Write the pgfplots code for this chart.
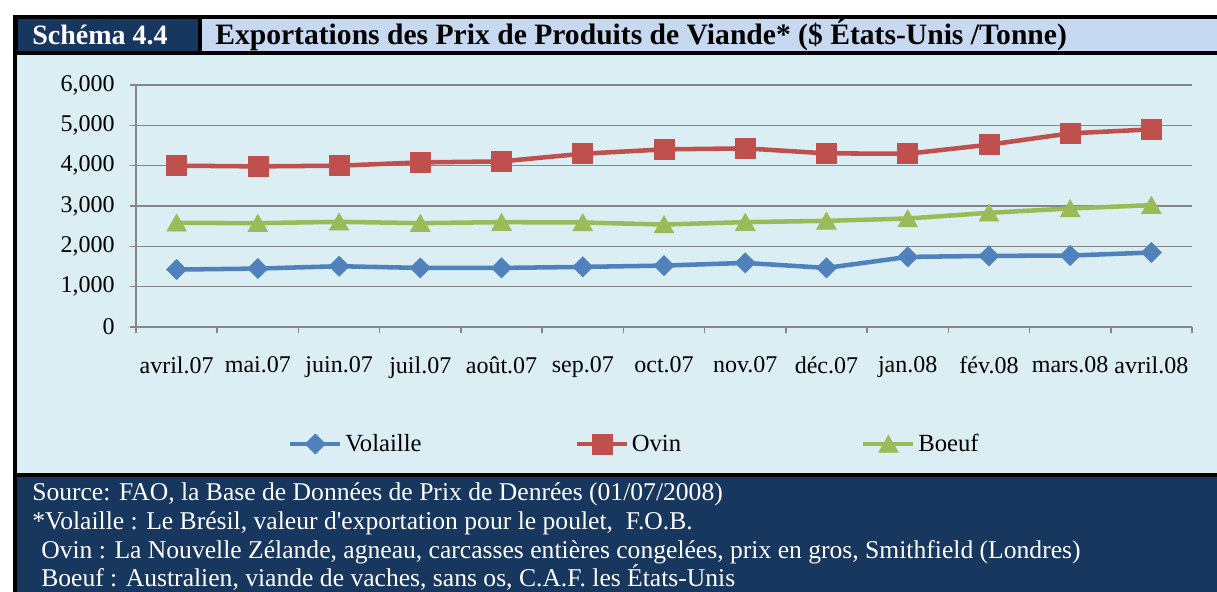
\documentclass[border=0pt]{standalone}
\usepackage{pgfplots}
\pgfplotsset{compat=1.18}
\usepackage{fontspec}
\setmainfont{Liberation Serif}
\newfontfamily\nomap{Liberation Serif}

\definecolor{navy}{HTML}{17375E}
\definecolor{headblue}{HTML}{C6D9F1}
\definecolor{chartbg}{HTML}{DBEEF4}
\definecolor{gridgray}{HTML}{868686}
\definecolor{cblue}{HTML}{4F81BD}
\definecolor{cred}{HTML}{C0504D}
\definecolor{cgreen}{HTML}{9BBB59}

\begin{document}
\begin{tikzpicture}
% 1 px of the reference = 0.75pt, y downwards
\path[use as bounding box] (0pt,0pt) rectangle (912.75pt,-444pt);
\begin{scope}[x=0.75pt,y=-0.75pt]
  \fill[white] (0,0) rectangle (1217,592);
  \fill[black] (13,15) rectangle (1217,592);
  \fill[navy] (18,19) rectangle (198,51);
  \fill[headblue] (202,19) rectangle (1217,51);
  \fill[chartbg] (17,55) rectangle (1217,473);
  \fill[navy] (17,477) rectangle (1217,592);
  \node[anchor=base west, text=white, inner sep=0pt, font=\fontsize{21}{23}\selectfont\bfseries] at (32,45) {Schéma 4.4};
  \node[anchor=base west, inner sep=0pt, font=\fontsize{22.2}{24}\selectfont\bfseries] at (215,45) {Exportations des Prix de Produits de Viande* (\$ États-Unis /Tonne)};
  \begin{scope}[every node/.style={anchor=base west, text=white, inner sep=0pt, font=\fontsize{19.2}{21}\selectfont}]
    \node at (32,500) {Source: FAO, la Base de Données de Prix de Denrées (01/07/2008)};
    \node at (32,529) {*Volaille : Le Brésil, valeur d{\nomap '}exportation pour le poulet,\ \ F.O.B.};
    \node at (41,558) {Ovin : La Nouvelle Zélande, agneau, carcasses entières congelées, prix en gros, Smithfield (Londres)};
    \node at (41,586) {Boeuf : Australien, viande de vaches, sans os, C.A.F. les États-Unis};
  \end{scope}
\end{scope}

\begin{axis}[
    at={(102pt,-245.25pt)}, anchor=south west,
    width=792pt, height=181.5pt, scale only axis,
    xmin=-0.5, xmax=12.5, ymin=0, ymax=6000,
    axis x line*=bottom, axis y line*=left,
    axis line style={gridgray, line width=1.1pt},
    xtick={0,...,12},
    xticklabels={avril.07,mai.07,juin.07,juil.07,août.07,sep.07,oct.07,nov.07,déc.07,jan.08,fév.08,mars.08,avril.08},
    minor xtick={-0.5,0.5,...,12.5},
    ytick={0,1000,...,6000},
    yticklabels={0,{1,000},{2,000},{3,000},{4,000},{5,000},{6,000}},
    tick align=outside,
    major tick length=4.5pt, minor tick length=4.5pt,
    major x tick style={draw=none},
    minor x tick style={gridgray, line width=1.1pt},
    ytick style={gridgray, line width=1.1pt},
    ymajorgrids,
    grid style={gridgray, line width=1.1pt},
    tick label style={font=\fontsize{18}{20}\selectfont, /pgf/number format/assume math mode=true},
    xticklabel style={yshift=-14pt},
    yticklabel style={xshift=-8pt},
    every axis plot/.append style={line width=3.4pt},
    legend style={at={(0.140,-0.4835)}, anchor=west, draw=none, fill=none,
        legend columns=3, font=\fontsize{18.5}{20}\selectfont,
        nodes={text width=170pt, align=left, inner xsep=2pt}},
    legend cell align=left,
    legend image code/.code={\draw[mark repeat=2,mark phase=2] plot coordinates {(0pt,0pt)(18.75pt,0pt)(37.5pt,0pt)};},
]
\addplot[cblue, mark=diamond*, mark size=7.5pt, mark options={xscale=1.33, line width=0.5pt}] coordinates {
  (0,1424) (1,1449) (2,1507) (3,1465) (4,1465) (5,1490) (6,1523)
  (7,1589) (8,1465) (9,1738) (10,1763) (11,1772) (12,1846)
};
\addplot[cred, mark=square*, mark size=7.5pt, mark options={line width=0.5pt}] coordinates {
  (0,4000) (1,3982) (2,4000) (3,4081) (4,4106) (5,4296) (6,4404)
  (7,4429) (8,4305) (9,4296) (10,4520) (11,4801) (12,4900)
};
\addplot[cgreen, mark=triangle*, mark size=8.5pt, mark options={yshift=-2pt, line width=0.5pt}] coordinates {
  (0,2583) (1,2575) (2,2608) (3,2575) (4,2600) (5,2591) (6,2541)
  (7,2600) (8,2632) (9,2690) (10,2831) (11,2939) (12,3021)
};
\legend{Volaille, Ovin, Boeuf}
\end{axis}
\end{tikzpicture}
\end{document}
